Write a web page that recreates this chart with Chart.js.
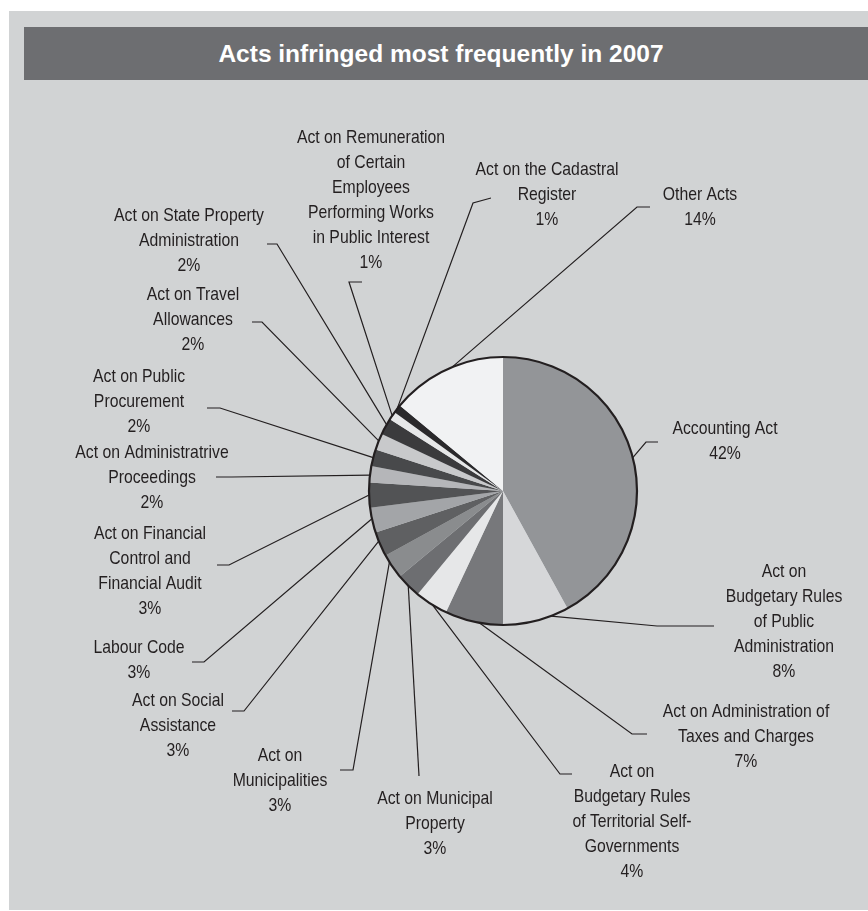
<!DOCTYPE html>
<html><head><meta charset="utf-8">
<script src="https://cdn.jsdelivr.net/npm/chart.js@4.4.1/dist/chart.umd.min.js"></script>
<style>
html,body{margin:0;padding:0;background:#fff;width:868px;height:911px;overflow:hidden;}
#panel{position:absolute;left:9px;top:11px;width:859px;height:899px;background:#d1d3d4;}
#bar{position:absolute;left:24px;top:27px;width:844px;height:53px;background:#6d6e71;color:#fff;font:bold 24.5px "Liberation Sans",Arial,sans-serif;display:flex;align-items:center;justify-content:center;box-sizing:border-box;padding-right:10px;}
#wrap{position:absolute;left:0;top:0;width:868px;height:911px;}
</style></head><body>
<div id="panel"></div>
<div id="bar">Acts infringed most frequently in 2007</div>
<div id="wrap"><canvas id="c"></canvas></div>
<script>
const categories = [
  ["Accounting Act"],
  ["Act on", "Budgetary Rules", "of Public", "Administration"],
  ["Act on Administration of", "Taxes and Charges"],
  ["Act on", "Budgetary Rules", "of Territorial Self-", "Governments"],
  ["Act on Municipal", "Property"],
  ["Act on", "Municipalities"],
  ["Act on Social", "Assistance"],
  ["Labour Code"],
  ["Act on Financial", "Control and", "Financial Audit"],
  ["Act on Administratrive", "Proceedings"],
  ["Act on Public", "Procurement"],
  ["Act on Travel", "Allowances"],
  ["Act on State Property", "Administration"],
  ["Act on Remuneration", "of Certain", "Employees", "Performing Works", "in Public Interest"],
  ["Act on the Cadastral", "Register"],
  ["Other Acts"]
];
const values = [42, 8, 7, 4, 3, 3, 3, 3, 3, 2, 2, 2, 2, 1, 1, 14];

// styling / layout (not data)
const sliceColors = ['#939598','#d6d7d9','#77787b','#e6e7e8','#6d6e71','#8a8c8e','#5f6062','#a3a5a8',
                     '#525355','#b5b6b9','#48494b','#c8c9cb','#3b3b3d','#e6e7e8','#2a292b','#f1f2f3'];
const labelLayout = [
  {x:725, y:429, elbow:[646,442], end:[658,442], frac:0.5},
  {x:784, y:572, elbow:[657,626], end:[714,626], frac:0.27},
  {x:746, y:712, elbow:[632,734], end:[647,734], frac:0.4},
  {x:632, y:772, elbow:[560,774], end:[572,774], frac:0.45},
  {x:435, y:799, elbow:[419,776], end:[419,776], frac:0.5},
  {x:280, y:756, elbow:[353,770], end:[340,770], frac:0.7},
  {x:178, y:701, elbow:[244,711], end:[232,711], frac:0.63},
  {x:139, y:648, elbow:[204,662], end:[192,662], frac:0.56},
  {x:150, y:534, elbow:[229,565], end:[217,565], frac:0.51},
  {x:152, y:453, elbow:[232,477], end:[216,477], frac:0.44},
  {x:139, y:377, elbow:[220,408], end:[207,408], frac:0.5},
  {x:193, y:295, elbow:[262,322], end:[252,322], frac:0.55},
  {x:189, y:216, elbow:[277,244], end:[267,244], frac:0.62},
  {x:371, y:138, elbow:[349,282], end:[362,282], frac:0.5},
  {x:547, y:170, elbow:[473,203], end:[491,198], frac:0.5},
  {x:700, y:195, elbow:[637,207], end:[650,207], frac:0.56}
];
const LINE_H = 25;
const INK = '#231f20';
const TEXT_SCALE_X = 0.83;

const labelPlugin = {
  id: 'pieLabels',
  afterDatasetsDraw(chart) {
    const ctx = chart.ctx;
    const meta = chart.getDatasetMeta(0);
    const first = meta.data[0];
    ctx.save();
    ctx.beginPath();
    ctx.arc(first.x, first.y, first.outerRadius, 0, Math.PI * 2);
    ctx.lineWidth = 2.2;
    ctx.strokeStyle = INK;
    ctx.stroke();
    ctx.lineWidth = 1.2;
    ctx.font = '19px "Liberation Sans", Arial, sans-serif';
    ctx.textAlign = 'center';
    ctx.textBaseline = 'middle';
    ctx.fillStyle = INK;
    meta.data.forEach((arc, i) => {
      const L = labelLayout[i];
      const ang = arc.startAngle + (arc.endAngle - arc.startAngle) * L.frac;
      const px = arc.x + Math.cos(ang) * arc.outerRadius;
      const py = arc.y + Math.sin(ang) * arc.outerRadius;
      ctx.beginPath();
      ctx.moveTo(px, py);
      ctx.lineTo(L.elbow[0], L.elbow[1]);
      ctx.lineTo(L.end[0], L.end[1]);
      ctx.stroke();
      const lines = [...chart.data.labels[i], chart.data.datasets[0].data[i] + '%'];
      lines.forEach((t, k) => {
        ctx.save();
        ctx.translate(L.x, L.y + k * LINE_H);
        ctx.scale(TEXT_SCALE_X, 1);
        ctx.fillText(t, 0, 0);
        ctx.restore();
      });
    });
    ctx.restore();
  }
};

new Chart(document.getElementById('c'), {
  type: 'pie',
  data: {
    labels: categories,
    datasets: [{ data: values, backgroundColor: sliceColors, borderWidth: 0 }]
  },
  options: {
    responsive: true,
    maintainAspectRatio: false,
    animation: false,
    layout: { padding: { left: 369, top: 357, right: 231, bottom: 286 } },
    plugins: { legend: { display: false }, tooltip: { enabled: false } }
  },
  plugins: [labelPlugin]
});
</script>
</body></html>
